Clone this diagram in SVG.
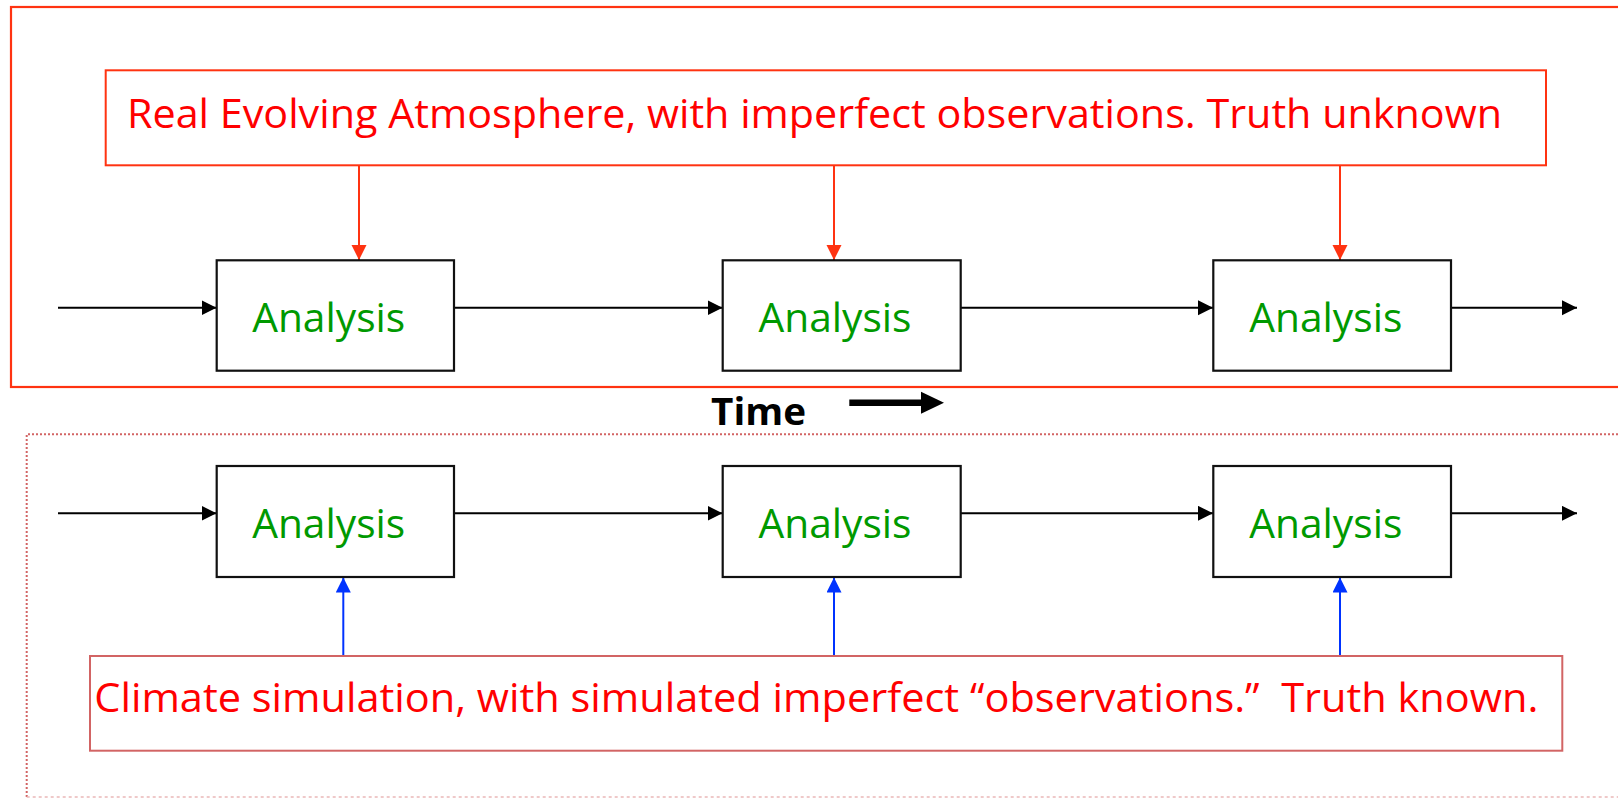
<svg xmlns="http://www.w3.org/2000/svg" width="1618" height="798" viewBox="0 0 1618 798">
<style>
.frame{fill:none;stroke:#ff3311;stroke-width:2.2}
.tbox{fill:#fff;stroke:#ff3311;stroke-width:2}
.bbox{fill:#fff;stroke:#d26464;stroke-width:2}
.abox{fill:#fff;stroke:#111;stroke-width:2.2}
.alabel{font-family:"Open Sans","Liberation Sans",sans-serif;font-size:40px;fill:#009900;text-anchor:middle}
.rlabel{font-family:"Open Sans","Liberation Sans",sans-serif;font-size:40px;fill:#ff0000}
.blk{stroke:#000;stroke-width:2;fill:none}
.red{stroke:#ff3311;stroke-width:2;fill:none}
.blue{stroke:#0033ff;stroke-width:2;fill:none}
</style>
<defs>
<marker id="ab" markerUnits="userSpaceOnUse" markerWidth="16" markerHeight="16" refX="15" refY="7.5" orient="auto"><path d="M0,0 L15,7.5 L0,15 z" fill="#000"/></marker>
<marker id="ar" markerUnits="userSpaceOnUse" markerWidth="16" markerHeight="16" refX="15" refY="7.5" orient="auto"><path d="M0,0 L15,7.5 L0,15 z" fill="#ff3311"/></marker>
<marker id="au" markerUnits="userSpaceOnUse" markerWidth="16" markerHeight="16" refX="15" refY="7.5" orient="auto"><path d="M0,0 L15,7.5 L0,15 z" fill="#0033ff"/></marker>
</defs>
<rect width="1618" height="798" fill="#fff"/>
<g id="frame-real">
<rect class="frame" x="11" y="7" width="1620" height="380"/>
</g>
<g id="frame-sim">
<path d="M26.7,797 V434.3 H1620" fill="none" stroke="#d26464" stroke-width="2" stroke-dasharray="2,2"/>
<path d="M26.7,797 H1620" fill="none" stroke="#eab8b8" stroke-width="1.5" stroke-dasharray="3,3"/>
</g>
<g id="connectors">
<line class="red" x1="359" y1="165" x2="359" y2="260" marker-end="url(#ar)"/>
<line class="red" x1="834" y1="165" x2="834" y2="260" marker-end="url(#ar)"/>
<line class="red" x1="1340" y1="165" x2="1340" y2="260" marker-end="url(#ar)"/>
<line class="blk" x1="58" y1="307.7" x2="216.5" y2="307.7" marker-end="url(#ab)"/>
<line class="blk" x1="454" y1="307.7" x2="722.5" y2="307.7" marker-end="url(#ab)"/>
<line class="blk" x1="961" y1="307.7" x2="1213" y2="307.7" marker-end="url(#ab)"/>
<line class="blk" x1="1451" y1="307.7" x2="1577" y2="307.7" marker-end="url(#ab)"/>
<line class="blk" x1="58" y1="513.3" x2="216.5" y2="513.3" marker-end="url(#ab)"/>
<line class="blk" x1="454" y1="513.3" x2="722.5" y2="513.3" marker-end="url(#ab)"/>
<line class="blk" x1="961" y1="513.3" x2="1213" y2="513.3" marker-end="url(#ab)"/>
<line class="blk" x1="1451" y1="513.3" x2="1577" y2="513.3" marker-end="url(#ab)"/>
<line class="blue" x1="343.3" y1="656" x2="343.3" y2="577.5" marker-end="url(#au)"/>
<line class="blue" x1="834" y1="656" x2="834" y2="577.5" marker-end="url(#au)"/>
<line class="blue" x1="1340" y1="656" x2="1340" y2="577.5" marker-end="url(#au)"/>
</g>
<g id="real-atmosphere">
<rect class="tbox" x="105.7" y="70.3" width="1440.3" height="95"/>
<text class="rlabel" x="127" y="127.7" textLength="1375" lengthAdjust="spacingAndGlyphs">Real Evolving Atmosphere, with imperfect observations. Truth unknown</text>
</g>
<g id="analysis-top-1"><rect class="abox" x="216.7" y="260.3" width="237.3" height="110.4"/><text class="alabel" x="328.7" y="332" textLength="153" lengthAdjust="spacingAndGlyphs">Analysis</text></g>
<g id="analysis-top-2"><rect class="abox" x="722.7" y="260.3" width="238" height="110.4"/><text class="alabel" x="835" y="332" textLength="153" lengthAdjust="spacingAndGlyphs">Analysis</text></g>
<g id="analysis-top-3"><rect class="abox" x="1213.3" y="260.3" width="237.7" height="110.4"/><text class="alabel" x="1325.8" y="332" textLength="153" lengthAdjust="spacingAndGlyphs">Analysis</text></g>
<g id="analysis-bot-1"><rect class="abox" x="216.7" y="466" width="237.3" height="111"/><text class="alabel" x="328.7" y="538.3" textLength="153" lengthAdjust="spacingAndGlyphs">Analysis</text></g>
<g id="analysis-bot-2"><rect class="abox" x="722.7" y="466" width="238" height="111"/><text class="alabel" x="835" y="538.3" textLength="153" lengthAdjust="spacingAndGlyphs">Analysis</text></g>
<g id="analysis-bot-3"><rect class="abox" x="1213.3" y="466" width="237.7" height="111"/><text class="alabel" x="1325.8" y="538.3" textLength="153" lengthAdjust="spacingAndGlyphs">Analysis</text></g>
<g id="time">
<text x="711" y="425" font-family="'Open Sans','Liberation Sans',sans-serif" font-weight="bold" font-size="37" fill="#000" textLength="95" lengthAdjust="spacingAndGlyphs">Time</text>
<path d="M849.3,399.4 H921 V391.7 L944,402.7 L921,413.7 V406 H849.3 z" fill="#000"/>
</g>
<g id="climate-simulation">
<rect class="bbox" x="90" y="656" width="1472.3" height="94.7"/>
<text class="rlabel" x="94.3" y="712.3" font-size="41" textLength="1444" lengthAdjust="spacingAndGlyphs" xml:space="preserve">Climate simulation, with simulated imperfect “observations.”&#160; Truth known.</text>
</g>
</svg>
